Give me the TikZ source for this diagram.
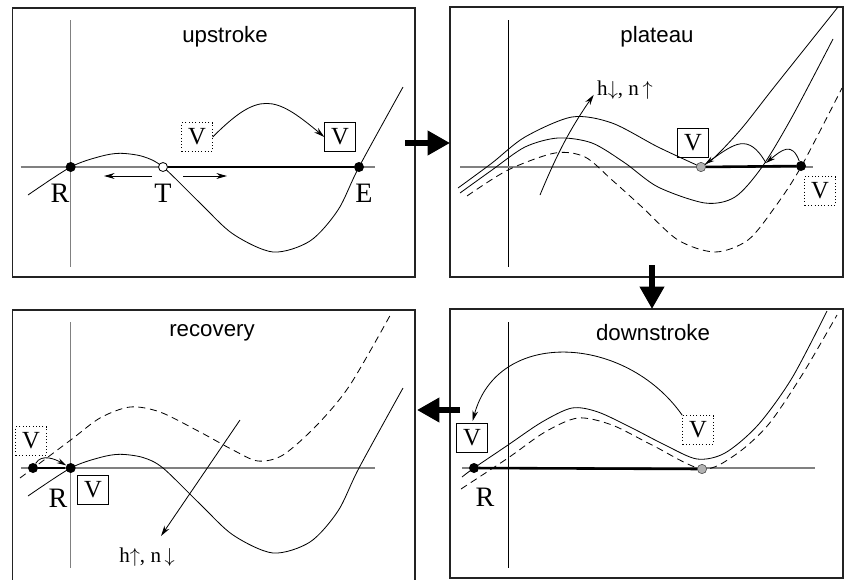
\documentclass[tikz,border=0pt]{standalone}
\usepackage{fontspec}
\setmainfont{Liberation Serif}
\setsansfont{Liberation Sans}
\usetikzlibrary{arrows.meta}
\definecolor{frameline}{RGB}{35,35,35}
\definecolor{axisgray}{RGB}{128,128,128}
\definecolor{dotgray}{RGB}{178,178,178}

\newcommand\titlefont{\sffamily\fontsize{19}{22}\selectfont}
\newcommand\vfont{\fontsize{21}{24}\selectfont}
\newcommand\hnfont{\fontsize{18}{21}\selectfont}

\tikzset{
  panel/.style={draw=frameline, line width=1pt},
  axisline/.style={draw=axisgray, line width=0.9pt},
  blackaxis/.style={draw=black, line width=0.7pt},
  curve/.style={line width=0.7pt},
  dashcurve/.style={curve, dash pattern=on 6pt off 4pt},
  restline/.style={line width=2.2pt},
  fixdot/.style={circle, fill=black, inner sep=0pt, minimum size=0.3cm},
  opendot/.style={circle, draw=black, fill=white, line width=0.7pt, inner sep=0pt, minimum size=0.27cm},
  greydot/.style={circle, draw=black!70, fill=dotgray, line width=0.5pt, inner sep=0pt, minimum size=0.28cm},
  vbox/.style={draw, line width=0.6pt, font=\vfont, inner sep=0pt, minimum width=0.92cm, minimum height=0.86cm},
  vghost/.style={vbox, dash pattern=on 0.8pt off 2pt},
  flow/.style={line width=0.7pt, -{Stealth[length=9pt, width=5pt]}},
  hop/.style={line width=0.7pt, -{Stealth[length=8pt, width=4.5pt]}},
  bigarrow/.style={line width=4.5pt, -{Triangle[length=19pt, width=20pt]}},
  phase/.style={font=\titlefont},
}

\begin{document}
\begin{tikzpicture}[x=0.03cm, y=-0.03cm, font=\fontsize{24}{27}\selectfont]
  \useasboundingbox (0,0) rectangle (845,579);

  % upstroke
  \draw[panel] (12.5,8) rectangle (415,277);
  \draw[axisline] (70.7,20) -- (70.7,267);
  \draw[axisline] (20.7,167) -- (375,167);
  \draw[curve] plot[smooth] coordinates {(28,195) (70.7,167) (100,156.5) (120,153.3) (143,156.5) (163,167) (200,203) (233,234) (273,252) (310,241) (338,210) (359,167) (403,87)};
  \node[phase] (up) at (225,37) {upstroke};
  \node[fixdot] (r1) at (70.7,167) {};
  \node[opendot] (t1) at (163,167) {};
  \node[fixdot] (e1) at (359,167) {};
  \draw[restline] (t1) -- (e1);
  \node (r1l) at (60,193) {R};
  \node (t1l) at (163,193) {T};
  \node (e1l) at (364,193) {E};
  \coordinate (t1w) at (152,176);
  \coordinate (t1ww) at (104,176);
  \coordinate (t1e) at (183,176);
  \coordinate (t1ee) at (227,176);
  \draw[flow] (t1w) -- (t1ww);
  \draw[flow] (t1e) -- (t1ee);
  \node[vghost] (v1a) at (197,137) {V};
  \node[vbox] (v1b) at (340,137) {V};
  \draw[flow] (v1a.east) to[out=45, in=140, looseness=1.5] (v1b.west);

  % plateau
  \draw[panel] (450,7) rectangle (843,277);
  \draw[blackaxis] (508,20) -- (508,267);
  \draw[axisline] (460,167) -- (813,167);
  \draw[curve] plot[smooth] coordinates {(458,188) (492,163) (525,137) (572,117) (612,123) (658,147) (701,167)};
  \draw[curve] plot[smooth] coordinates {(701,167) (715,157) (742,128) (775,86) (838,7)};
  \draw[curve] plot[smooth] coordinates {(460,193) (492,170) (525,147) (558,138) (592,143) (625,163) (658,187) (705,203) (735,197) (762,167) (792,117) (833,39)};
  \draw[dashcurve] plot[smooth] coordinates {(467,196) (508,170) (555,153) (585,157) (612,180) (642,207) (678,240) (715,252) (748,240) (775,207) (801,167) (842,88)};
  \node[phase] (pl) at (657,37) {plateau};
  \node[greydot] (g2) at (701,167) {};
  \node[fixdot] (b2) at (801,166) {};
  \draw[restline] (g2) -- (b2);
  \coordinate (x2) at (766,163);
  \draw[hop] (b2) to[out=110, in=40, looseness=1.6] (x2);
  \draw[hop] (x2) to[out=120, in=35, looseness=1.5] (g2);
  \node[vbox] (v2a) at (693,143) {V};
  \node[vghost] (v2b) at (820,191) {V};
  \coordinate (h2s) at (540,195);
  \node[anchor=west, inner sep=0pt, font=\hnfont] (hn2) at (597,90) {h$\downarrow$, n\,$\uparrow$};
  \draw[flow, shorten >=5pt] (h2s) to[bend left=6] (hn2.west);

  % downstroke
  \draw[panel] (450,309) rectangle (843,578);
  \draw[blackaxis] (508,322) -- (508,568);
  \draw[axisline] (462,468) -- (815,468);
  \draw[curve] plot[smooth] coordinates {(462,477) (474,468) (508,445) (542,422) (572,408) (598,412) (632,428) (665,445) (697,459) (725,453) (758,425) (792,378) (827,311)};
  \draw[dashcurve] plot[smooth] coordinates {(461,489) (508,458) (545,432) (578,418) (612,425) (652,445) (702,469) (735,455) (768,425) (802,375) (837,315)};
  \node[phase] (dn) at (653,333) {downstroke};
  \node[fixdot] (r4) at (474,468) {};
  \node[greydot] (g4) at (702,469) {};
  \draw[restline] (r4) -- (g4);
  \node (r4l) at (485,497) {R};
  \node[vbox] (v4a) at (472,438) {V};
  \node[vghost] (v4b) at (698,430) {V};
  \draw[flow, shorten >=2pt] (v4b.north west) to[out=125, in=75, looseness=1.2] (v4a.north);

  % recovery
  \draw[panel] (12.5,580) -- (12.5,310) -- (415,310) -- (415,580);
  \draw[axisline] (70.7,322) -- (70.7,568);
  \draw[axisline] (21,468) -- (375,468);
  \begin{scope}[shift={(0,301)}]
    \draw[curve] plot[smooth] coordinates {(28,195) (70.7,167) (100,156.5) (120,153.3) (143,156.5) (163,167) (200,203) (233,234) (273,252) (310,241) (338,210) (359,167) (403,87)};
  \end{scope}
  \draw[dashcurve] plot[smooth] coordinates {(20,478) (70.7,440) (100,418) (130,407) (160,412) (200,432) (233,450) (258,461) (283,455) (317,425) (350,385) (392,312)};
  \node[phase] (rc) at (212,333) {recovery};
  \node[fixdot] (l3) at (33,468) {};
  \node[fixdot] (r3) at (70.7,468) {};
  \draw[restline] (l3) -- (r3);
  \draw[hop] (l3) to[out=60, in=150] (r3);
  \node (r3l) at (58,498) {R};
  \node[vbox] (v3a) at (93,490) {V};
  \node[vghost] (v3b) at (31,441) {V};
  \coordinate (h3s) at (240,420);
  \coordinate (h3e) at (161,536);
  \draw[flow] (h3s) -- (h3e);
  \node[font=\hnfont] (hn3) at (147,557) {h$\uparrow$, n\,$\downarrow$};

  % phase order
  \coordinate (a1s) at (405,143);
  \coordinate (a1e) at (450,143);
  \coordinate (a2s) at (652,265);
  \coordinate (a2e) at (652,309);
  \coordinate (a3s) at (460,410);
  \coordinate (a3e) at (417,410);
  \draw[bigarrow] (a1s) -- (a1e);
  \draw[bigarrow] (a2s) -- (a2e);
  \draw[bigarrow] (a3s) -- (a3e);
\end{tikzpicture}
\end{document}
